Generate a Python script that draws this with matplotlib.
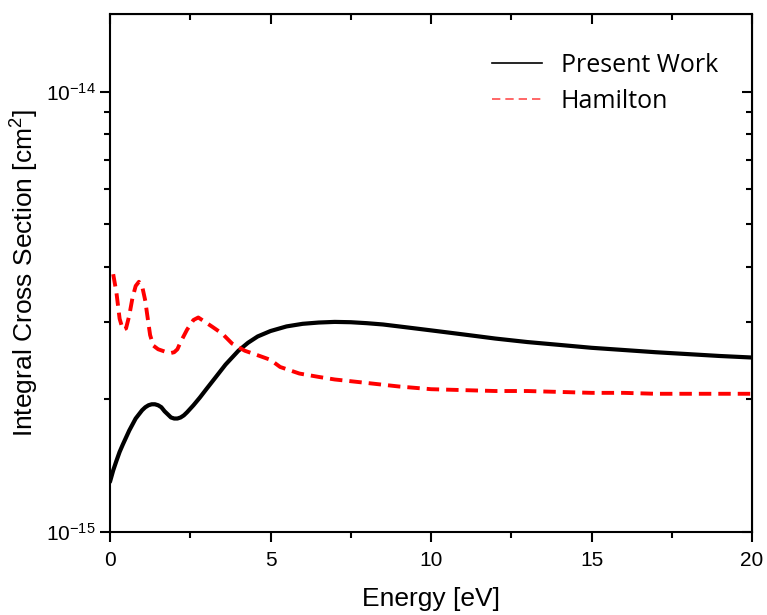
import numpy as np
import matplotlib
matplotlib.use('Agg')
import matplotlib.pyplot as plt
from matplotlib.lines import Line2D
from matplotlib.ticker import FixedLocator, NullFormatter, FuncFormatter

# curves (energy in eV, cross section in 1e-15 cm^2)
e_present = [0.0, 0.1, 0.2, 0.3, 0.4, 0.6, 0.8, 1.0, 1.1, 1.2, 1.3, 1.4, 1.5, 1.6, 1.7,
             1.8, 1.9, 2.0, 2.1, 2.2, 2.3, 2.4, 2.6, 2.8, 3.0, 3.3, 3.6, 4.0, 4.3, 4.6,
             5.0, 5.5, 6.0, 6.5, 7.0, 7.5, 8.0, 8.5, 9.0, 9.5, 10.0, 10.5, 11.0, 11.5,
             12.0, 13.0, 14.0, 15.0, 16.0, 17.0, 18.0, 19.0, 20.0]
cs_present = [1.30, 1.38, 1.45, 1.52, 1.58, 1.70, 1.81, 1.89, 1.92, 1.94, 1.95, 1.95, 1.94,
              1.92, 1.88, 1.85, 1.82, 1.81, 1.81, 1.82, 1.84, 1.87, 1.94, 2.02, 2.11, 2.25,
              2.40, 2.58, 2.69, 2.78, 2.86, 2.93, 2.97, 2.99, 3.00, 2.995, 2.98, 2.96, 2.93,
              2.90, 2.87, 2.84, 2.81, 2.78, 2.75, 2.70, 2.66, 2.62, 2.59, 2.56, 2.535, 2.51,
              2.49]

e_hamilton = [0.1, 0.2, 0.3, 0.4, 0.5, 0.6, 0.7, 0.8, 0.9, 1.0, 1.1, 1.15, 1.25, 1.35, 1.5,
              1.7, 1.9, 2.0, 2.1, 2.2, 2.4, 2.6, 2.75, 2.9, 3.2, 3.5, 3.8, 4.2, 4.6, 5.0,
              5.3, 5.9, 6.5, 7.0, 7.5, 8.0, 9.0, 10.0, 11.0, 12.0, 13.0, 14.0, 15.0, 16.0,
              17.0, 18.0, 19.0, 20.0]
cs_hamilton = [3.85, 3.50, 3.05, 2.88, 2.90, 3.10, 3.40, 3.62, 3.70, 3.62, 3.35, 3.15, 2.80,
               2.65, 2.60, 2.57, 2.55, 2.56, 2.60, 2.70, 2.88, 3.03, 3.07, 3.02, 2.92, 2.82,
               2.68, 2.58, 2.52, 2.46, 2.37, 2.29, 2.25, 2.22, 2.20, 2.18, 2.14, 2.11, 2.10,
               2.09, 2.09, 2.08, 2.07, 2.07, 2.06, 2.06, 2.06, 2.06]

labels = ['Present Work', 'Hamilton']

plt.rcParams['font.family'] = ['Liberation Sans', 'DejaVu Sans']

fig = plt.figure(figsize=(7.67, 6.15), dpi=100)
ax = fig.add_axes([0.1434, 0.135, 0.8371, 0.842])

ax.plot(e_present, np.array(cs_present) * 1e-15, color='black', lw=3,
        solid_capstyle='round', solid_joinstyle='round')
ax.plot(e_hamilton, np.array(cs_hamilton) * 1e-15, color='#ff0000', lw=2.8,
        dashes=(3.2, 1.8))

ax.set_yscale('log')
ax.set_xlim(0, 20)
ax.set_ylim(1e-15, 1.5e-14)

xmaj = [0, 5, 10, 15, 20]
xmin = [2.5, 7.5, 12.5, 17.5]
ymaj = [1e-15, 1e-14]
ymin = [k * 1e-15 for k in range(2, 10)]

ax.xaxis.set_major_locator(FixedLocator(xmaj))
ax.xaxis.set_minor_locator(FixedLocator(xmin))
ax.yaxis.set_major_locator(FixedLocator(ymaj))
ax.yaxis.set_minor_locator(FixedLocator(ymin))
ax.yaxis.set_major_formatter(FuncFormatter(
    lambda v, p: r'$\mathregular{10^{%d}}$' % int(round(np.log10(v)))))
ax.yaxis.set_minor_formatter(NullFormatter())

for s in ax.spines.values():
    s.set_linewidth(1.5)
ax.tick_params(which='both', direction='out', width=1.5, labelsize=15)
ax.tick_params(which='major', length=7)
ax.tick_params(which='minor', length=4)
ax.tick_params(axis='x', which='major', pad=7)

# top/right ticks point inward, without labels
ax2 = ax.secondary_xaxis('top')
ax2.xaxis.set_major_locator(FixedLocator(xmaj))
ax2.xaxis.set_minor_locator(FixedLocator(xmin))
ax3 = ax.secondary_yaxis('right')
ax3.yaxis.set_major_locator(FixedLocator(ymaj))
ax3.yaxis.set_minor_locator(FixedLocator(ymin))
ax3.yaxis.set_minor_formatter(NullFormatter())
for a in (ax2, ax3):
    a.tick_params(which='both', direction='in', width=1.5,
                  labeltop=False, labelright=False)
    a.tick_params(which='major', length=7)
    a.tick_params(which='minor', length=4)

ax.set_xlabel('Energy [eV]', fontsize=19, labelpad=12)
ax.set_ylabel(r'Integral Cross Section [cm$^\mathregular{2}$]', fontsize=19, labelpad=4)

handles = [Line2D([], [], color='black', lw=1.2),
           Line2D([], [], color='#ff4d4d', lw=1.2, dashes=(5, 3))]
ax.legend(handles, labels, loc='upper left', bbox_to_anchor=(0.595, 0.925),
          frameon=False, borderpad=0, borderaxespad=0, handlelength=2.0,
          handletextpad=0.75, labelspacing=0.45, prop={'family': 'Open Sans', 'size': 18})

fig.savefig('out.png', dpi=100)
